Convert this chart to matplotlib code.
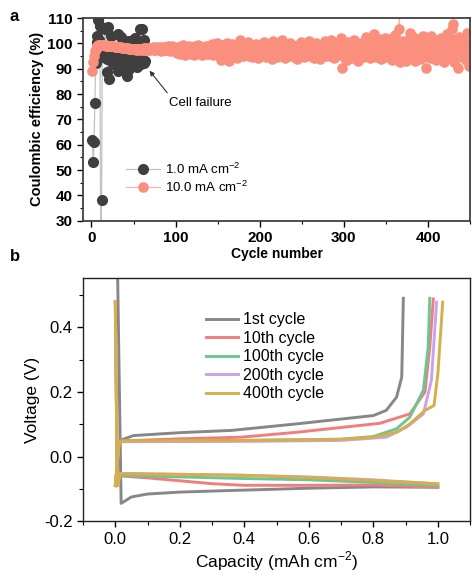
import matplotlib
matplotlib.use("Agg")
from matplotlib import pyplot as plt
from matplotlib.ticker import MultipleLocator
import numpy as np

plt.rcParams["font.family"] = ["Liberation Sans", "DejaVu Sans"]
plt.rcParams["mathtext.fontset"] = "custom"
plt.rcParams["mathtext.rm"] = "Liberation Sans"
plt.rcParams["axes.unicode_minus"] = False

# ---- panel a: coulombic efficiency ----
ce_low = [
    62.0, 53.2, 61.0, 76.4, 92.3, 100.5, 103.0, 109.3, 101.5, 106.8,
    20.0, 38.3, 106.2, 94.5, 99.0, 105.5, 96.0, 93.8, 88.8, 106.5,
    85.8, 95.5, 102.8, 94.0, 97.2, 91.8, 95.0, 93.2, 96.5, 92.5,
    89.2, 103.5, 95.8, 91.0, 102.5, 94.5, 97.5, 90.5, 95.0, 93.0,
    99.0, 87.0, 101.0, 95.5, 90.0, 100.0, 94.0, 91.5, 101.5, 96.0,
    92.5, 102.0, 95.0, 90.5, 100.5, 94.0, 97.0, 105.8, 92.0, 105.5,
    93.5, 101.5, 92.3, 93.0,
]

ce_high = [
    89.2, 92.5, 95.0, 96.8, 97.9, 98.6, 99.0, 99.2, 99.3, 99.3,
    99.3, 99.3, 99.3, 99.2, 99.2, 99.2, 99.1, 99.1, 99.1, 99.0,
    99.0, 99.0, 98.9, 98.9, 98.9, 98.8, 98.8, 98.7, 98.7, 98.6,
    98.6, 98.5, 98.5, 98.4, 98.4, 98.3, 98.3, 98.2, 98.2, 98.1,
    98.1, 98.0, 98.0, 97.9, 97.9, 97.8, 97.8, 97.7, 97.7, 97.6,
    97.6, 97.7, 97.5, 97.8, 97.5, 97.9, 97.6, 97.8, 97.4, 97.9,
    97.5, 98.0, 97.4, 98.1, 97.6, 98.2, 97.5, 97.9, 97.3, 98.3,
    97.6, 98.0, 98.4, 97.5, 98.1, 97.2, 98.5, 97.7, 98.0, 97.4,
    98.6, 97.8, 97.1, 98.2, 98.7, 97.5, 98.1, 98.4, 97.3, 98.0,
    98.9, 97.6, 97.0, 98.5, 98.1, 98.8, 97.4, 98.3, 97.9, 97.2,
    97.8, 96.2, 98.4, 97.0, 95.9, 98.9, 97.3, 96.5, 99.2, 97.6,
    95.6, 98.1, 96.9, 97.7, 96.0, 99.0, 97.4, 95.8, 98.5, 96.7,
    97.9, 95.5, 98.8, 97.2, 96.3, 99.4, 97.0, 96.1, 98.2, 97.5,
    95.4, 98.6, 96.8, 97.9, 95.9, 99.1, 96.6, 97.8, 95.7, 98.7,
    97.1, 96.2, 99.6, 97.4, 95.3, 98.3, 96.9, 97.6, 100.3, 96.4,
    98.1, 95.2, 97.7, 93.6, 99.3, 96.8, 94.4, 98.6, 97.2, 95.0,
    100.2, 96.5, 93.1, 98.9, 97.4, 94.8, 99.8, 96.1, 97.9, 95.6,
    98.4, 96.9, 94.2, 99.5, 97.1, 95.8, 101.5, 96.4, 98.2, 94.9,
    97.6, 99.1, 95.3, 98.0, 96.7, 100.6, 95.1, 97.8, 99.4, 96.2,
    94.6, 98.5, 97.0, 95.7, 99.9, 96.6, 98.3, 94.3, 97.5, 99.0,
    96.0, 98.7, 95.4, 97.3, 100.4, 96.8, 94.7, 98.9, 97.1, 95.5,
    99.6, 96.3, 98.1, 93.9, 97.7, 100.9, 95.9, 98.4, 96.5, 97.9,
    94.5, 99.2, 96.9, 98.6, 95.2, 97.4, 101.2, 96.1, 98.0, 94.1,
    97.6, 99.7, 95.6, 98.3, 96.7, 100.1, 94.9, 97.2, 99.0, 96.4,
    95.1, 98.8, 97.0, 93.7, 99.4, 96.6, 98.2, 95.3, 100.7, 97.5,
    96.2, 98.9, 94.6, 97.8, 99.5, 95.7, 98.1, 96.9, 101.0, 95.0,
    97.3, 99.8, 96.4, 94.2, 98.6, 97.1, 100.3, 95.8, 98.0, 96.5,
    93.8, 99.1, 97.6, 95.4, 98.7, 96.0, 100.8, 97.2, 94.9, 98.4,
    96.7, 99.6, 95.2, 97.9, 101.4, 96.3, 98.2, 94.4, 99.3, 96.8,
    97.5, 95.6, 100.0, 98.5, 96.1, 102.1, 95.9, 90.2, 97.0, 94.7,
    99.2, 96.4, 98.0, 93.5, 100.6, 97.1, 95.3, 99.7, 96.6, 98.4,
    94.1, 101.3, 97.4, 95.8, 99.0, 96.2, 93.2, 98.7, 100.2, 95.6,
    97.8, 99.5, 94.8, 98.1, 96.9, 102.4, 95.1, 97.5, 99.9, 96.0,
    94.3, 100.8, 97.3, 95.5, 98.9, 103.7, 96.7, 94.6, 99.4, 97.0,
    95.2, 101.7, 98.2, 93.9, 99.8, 96.5, 98.6, 95.0, 102.0, 97.2,
    94.5, 99.6, 96.3, 101.9, 95.7, 98.4, 93.4, 100.5, 97.0, 95.2,
    103.2, 96.8, 94.0, 99.1, 105.5, 112.0, 92.8, 98.3, 96.1, 101.0,
    94.7, 99.8, 97.4, 93.1, 100.9, 96.6, 98.8, 95.3, 104.2, 97.7,
    94.2, 102.5, 96.0, 99.3, 92.9, 98.5, 101.6, 95.6, 97.9, 100.3,
    93.8, 99.0, 96.4, 103.0, 95.0, 98.1, 90.1, 100.7, 97.2, 94.6,
    99.5, 96.2, 102.8, 94.1, 98.6, 97.0, 100.1, 95.4, 93.3, 101.2,
    96.8, 99.7, 94.9, 98.0, 102.3, 95.7, 97.5, 100.5, 92.7, 98.9,
    96.1, 103.6, 94.3, 99.2, 97.3, 95.1, 101.8, 96.6, 105.8, 107.8,
    92.5, 98.4, 100.9, 95.9, 97.7, 90.4, 102.6, 96.3, 99.4, 94.5,
    101.4, 97.1, 95.2, 100.0, 93.6, 104.0, 96.9, 98.7, 90.9, 99.8,
]
cycles_low = np.arange(1, len(ce_low) + 1)
cycles_high = np.arange(1, len(ce_high) + 1)

# ---- panel b: voltage profiles (capacity, voltage) ----
cycle_names = ["1st cycle", "10th cycle", "100th cycle", "200th cycle", "400th cycle"]
cycle_colors = ["#878787", "#f27d7d", "#6fc591", "#c8a3ea", "#d8ae48"]

plate_cap = [
    [0.005, 0.018, 0.05, 0.1, 0.2, 0.36, 0.6, 0.8, 1.0],
    [0.0, 0.006, 0.015, 0.1, 0.2, 0.3, 0.4, 0.6, 0.8, 1.0],
    [0.0, 0.006, 0.015, 0.2, 0.4, 0.6, 0.8, 1.0],
    [0.0, 0.006, 0.015, 0.2, 0.4, 0.6, 0.8, 1.0],
    [0.0, 0.006, 0.015, 0.2, 0.4, 0.6, 0.8, 1.0],
]
plate_volt = [
    [0.7, -0.145, -0.125, -0.116, -0.110, -0.105, -0.098, -0.094, -0.095],
    [0.48, -0.09, -0.060, -0.066, -0.075, -0.084, -0.089, -0.089, -0.088, -0.095],
    [0.48, -0.09, -0.058, -0.063, -0.068, -0.072, -0.080, -0.090],
    [0.48, -0.09, -0.052, -0.055, -0.058, -0.063, -0.072, -0.085],
    [0.48, -0.09, -0.053, -0.055, -0.058, -0.065, -0.074, -0.084],
]
strip_cap = [
    [0.003, 0.015, 0.056, 0.2, 0.36, 0.56, 0.8, 0.84, 0.872, 0.888, 0.893],
    [0.0, 0.012, 0.2, 0.39, 0.56, 0.82, 0.913, 0.96, 0.975, 0.986],
    [0.0, 0.012, 0.4, 0.7, 0.8, 0.872, 0.913, 0.955, 0.97, 0.975],
    [0.0, 0.012, 0.4, 0.7, 0.84, 0.903, 0.955, 0.98, 0.996],
    [0.0, 0.012, 0.4, 0.7, 0.8, 0.872, 0.913, 0.96, 0.988, 1.0, 1.015],
]
strip_volt = [
    [-0.09, 0.050, 0.065, 0.074, 0.081, 0.101, 0.127, 0.143, 0.184, 0.246, 0.49],
    [-0.09, 0.048, 0.055, 0.060, 0.075, 0.103, 0.132, 0.200, 0.340, 0.488],
    [-0.09, 0.048, 0.050, 0.054, 0.062, 0.086, 0.122, 0.205, 0.339, 0.49],
    [-0.09, 0.046, 0.047, 0.050, 0.060, 0.091, 0.132, 0.236, 0.478],
    [-0.09, 0.048, 0.050, 0.053, 0.060, 0.075, 0.101, 0.143, 0.158, 0.256, 0.478],
]

fig = plt.figure(figsize=(4.72, 5.81), dpi=100)
ax1 = fig.add_axes([0.176, 0.620, 0.820, 0.349])
ax2 = fig.add_axes([0.176, 0.103, 0.820, 0.418])

# panel a
ax1.plot(cycles_low, ce_low, "-o", color="#c2c2c2", ms=7, lw=0.9,
         mfc="#3f3f3f", mec="#3f3f3f", label="1.0 mA cm$^{-2}$")
ax1.plot(cycles_high, ce_high, "-o", color="#fcb0a3", ms=6.6, lw=0.8,
         mfc="#fb8f7e", mec="#fb8f7e", label="10.0 mA cm$^{-2}$")
ax1.set_xlim(-10, 450)
ax1.set_ylim(30, 110)
ax1.xaxis.set_major_locator(MultipleLocator(100))
ax1.xaxis.set_minor_locator(MultipleLocator(50))
ax1.yaxis.set_major_locator(MultipleLocator(10))
ax1.yaxis.set_minor_locator(MultipleLocator(5))
ax1.tick_params(which="both", direction="out", labelsize=11)
ax1.tick_params(which="major", length=4, width=1)
ax1.tick_params(which="minor", length=2.5, width=0.8)
for lab in ax1.get_xticklabels() + ax1.get_yticklabels():
    lab.set_fontweight("bold")
ax1.set_xlabel("Cycle number", fontsize=10, fontweight="bold", labelpad=1)
ax1.set_ylabel("Coulombic efficiency (%)", fontsize=10.5, fontweight="bold", labelpad=2)
for sp in ax1.spines.values():
    sp.set_color("#404040")
    sp.set_linewidth(1.3)
ax1.annotate("", xy=(69, 89.2), xytext=(90, 80.5),
             arrowprops=dict(arrowstyle="-|>", color="#333333", lw=0.8,
                             shrinkA=0, shrinkB=0, mutation_scale=7))
ax1.text(129, 76.5, "Cell failure", fontsize=9.5, ha="center", va="center")
ax1.legend(loc="lower left", bbox_to_anchor=(0.08, 0.07), frameon=False,
           fontsize=9.5, handlelength=2.6, handletextpad=0.4, labelspacing=0.2)

# panel b
for i in range(len(cycle_names)):
    ax2.plot(plate_cap[i], plate_volt[i], color=cycle_colors[i], lw=2.1,
             label=cycle_names[i])
    ax2.plot(strip_cap[i], strip_volt[i], color=cycle_colors[i], lw=2.1)
ax2.set_xlim(-0.1, 1.1)
ax2.set_ylim(-0.2, 0.552)
ax2.xaxis.set_minor_locator(MultipleLocator(0.1))
ax2.yaxis.set_minor_locator(MultipleLocator(0.1))
ax2.set_xticks(np.arange(0, 1.01, 0.2))
ax2.set_yticks([-0.2, 0.0, 0.2, 0.4])
ax2.tick_params(which="both", direction="out", labelsize=12)
ax2.tick_params(which="major", length=4, width=1)
ax2.tick_params(which="minor", length=3, width=0.8)
ax2.set_xlabel("Capacity (mAh cm$^{-2}$)", fontsize=12.5, labelpad=2)
ax2.set_ylabel("Voltage (V)", fontsize=12.5, labelpad=3)
for sp in ax2.spines.values():
    sp.set_color("#222222")
    sp.set_linewidth(1.0)
ax2.legend(loc="upper left", bbox_to_anchor=(0.28, 0.92), frameon=False,
           fontsize=11.5, handlelength=2.0, handletextpad=0.3, labelspacing=0.22)

fig.text(0.02, 0.971, "a", fontsize=12, fontweight="bold", va="center")
fig.text(0.02, 0.558, "b", fontsize=12, fontweight="bold", va="center")

fig.savefig("out.png", dpi=100)
